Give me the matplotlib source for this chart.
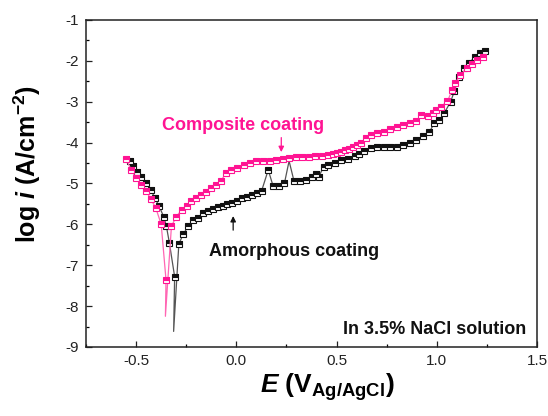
import numpy as np
import matplotlib.pyplot as plt

plt.rcParams['font.family'] = 'Liberation Sans'
plt.rcParams['mathtext.fontset'] = 'custom'
plt.rcParams['mathtext.rm'] = 'Liberation Sans'
plt.rcParams['mathtext.bf'] = 'Liberation Sans:bold'
plt.rcParams['mathtext.it'] = 'Liberation Sans:italic'
plt.rcParams['mathtext.bfit'] = 'Liberation Sans:italic:bold'

# amorphous coating (E in V vs Ag/AgCl, log i)
amor_E = [-0.533, -0.517, -0.497, -0.476, -0.451, -0.427, -0.406, -0.386, -0.362, -0.349,
          -0.334, -0.308, -0.313, -0.287, -0.264, -0.240, -0.215, -0.191, -0.167, -0.142,
          -0.118, -0.094, -0.069, -0.045, -0.020, 0.004, 0.028, 0.053, 0.077, 0.101,
          0.126, 0.159, 0.183, 0.212, 0.240, 0.263, 0.288, 0.316, 0.345, 0.378,
          0.395, 0.410, 0.435, 0.459, 0.492, 0.524, 0.556, 0.590, 0.614, 0.638,
          0.671, 0.703, 0.736, 0.768, 0.800, 0.833, 0.866, 0.898, 0.930, 0.963,
          0.988, 1.012, 1.037, 1.069, 1.087, 1.110, 1.134, 1.159, 1.191, 1.215, 1.240]
amor_logi = [-4.44, -4.57, -4.71, -4.85, -4.99, -5.16, -5.36, -5.55, -5.82, -6.05,
             -6.46, -7.28, -8.62, -6.48, -6.23, -6.05, -5.90, -5.84, -5.73, -5.68,
             -5.63, -5.58, -5.55, -5.50, -5.47, -5.42, -5.36, -5.32, -5.28, -5.24,
             -5.18, -4.67, -5.06, -5.06, -4.99, -4.45, -4.95, -4.93, -4.92, -4.84,
             -4.78, -4.84, -4.60, -4.55, -4.49, -4.43, -4.40, -4.34, -4.28, -4.21,
             -4.14, -4.10, -4.10, -4.10, -4.11, -4.07, -4.00, -3.93, -3.85, -3.74,
             -3.52, -3.45, -3.28, -3.00, -2.75, -2.39, -2.18, -2.06, -1.90, -1.81, -1.75]
amor_nomark = [12, 35]

# composite coating
comp_E = [-0.549, -0.524, -0.500, -0.476, -0.451, -0.427, -0.402, -0.375, -0.351, -0.354,
          -0.324, -0.300, -0.273, -0.248, -0.224, -0.200, -0.175, -0.151, -0.126, -0.102,
          -0.078, -0.053, -0.029, 0.004, 0.037, 0.069, 0.100, 0.134, 0.166, 0.199,
          0.232, 0.264, 0.297, 0.329, 0.361, 0.394, 0.427, 0.459, 0.480, 0.500,
          0.520, 0.540, 0.560, 0.581, 0.600, 0.622, 0.646, 0.671, 0.703, 0.736,
          0.768, 0.800, 0.833, 0.866, 0.898, 0.922, 0.955, 0.980, 0.996, 1.020,
          1.053, 1.077, 1.093, 1.118, 1.150, 1.175, 1.199, 1.232]
comp_logi = [-4.41, -4.68, -4.87, -5.03, -5.18, -5.38, -5.60, -6.00, -7.36, -8.25,
             -6.05, -5.81, -5.65, -5.55, -5.44, -5.36, -5.28, -5.20, -5.12, -5.03,
             -4.95, -4.75, -4.67, -4.61, -4.55, -4.50, -4.46, -4.44, -4.44, -4.42,
             -4.40, -4.38, -4.35, -4.35, -4.36, -4.34, -4.32, -4.30, -4.28, -4.25,
             -4.22, -4.19, -4.15, -4.11, -4.06, -4.00, -3.90, -3.82, -3.77, -3.73,
             -3.66, -3.61, -3.58, -3.53, -3.47, -3.33, -3.34, -3.27, -3.21, -3.12,
             -2.99, -2.71, -2.53, -2.34, -2.18, -2.07, -1.99, -1.91]
comp_nomark = [9]

pink = '#ff1493'

fig = plt.figure(figsize=(5.48, 4.16), dpi=100)
ax = fig.add_axes([0.157, 0.166, 0.823, 0.786])


def draw(E, logi, nomark, line_c, mark_c):
    every = [i for i in range(len(E)) if i not in nomark]
    ax.plot(E, logi, color=line_c, lw=0.9, marker='s', ms=5,
            markevery=every, fillstyle='top', markerfacecolor=mark_c,
            markerfacecoloralt='white', markeredgecolor=mark_c, mew=0.8)


draw(amor_E, amor_logi, amor_nomark, '#555555', '#111111')
draw(comp_E, comp_logi, comp_nomark, '#ff66b3', pink)

ax.set_xlim(-0.7, 1.5)
ax.set_ylim(-9, -1)
ax.set_xticks([-0.5, 0.0, 0.5, 1.0, 1.5])
ax.set_xticklabels(['-0.5', '0.0', '0.5', '1.0', '1.5'])
ax.set_yticks(np.arange(-9, 0, 1))
ax.set_yticklabels([str(v) for v in range(-9, 0)])
ax.set_xticks(np.arange(-0.75, 1.5, 0.25), minor=True)
ax.set_yticks(np.arange(-8.5, -1, 1.0), minor=True)
ax.tick_params(which='major', direction='in', length=4, width=0.9,
               labelsize=11, pad=5, colors='#222222')
ax.tick_params(which='minor', direction='in', length=2.5, width=0.9)
for s in ax.spines.values():
    s.set_linewidth(1.1)
    s.set_color('#222222')

ax.set_xlabel(r'$\mathbfit{E}\ \mathbf{(V_{Ag/AgCl})}$', fontsize=19)
ax.xaxis.set_label_coords(0.534, -0.075)
ax.set_ylabel(r'$\mathbf{log}\ \mathbfit{i}\ \mathbf{(A/cm^{-2})}$', fontsize=18)
ax.yaxis.set_label_coords(-0.095, 0.56)

ax.text(0.034, -3.57, 'Composite coating', color=pink, fontsize=13,
        fontweight='bold', ha='center', va='center')
ax.annotate('', xy=(0.224, -4.30), xytext=(0.224, -3.81),
            arrowprops=dict(arrowstyle='-|>', color=pink, lw=0.9,
                            mutation_scale=8))
ax.text(0.287, -6.67, 'Amorphous coating', color='#111111', fontsize=13,
        fontweight='bold', ha='center', va='center')
ax.annotate('', xy=(-0.016, -5.73), xytext=(-0.016, -6.21),
            arrowprops=dict(arrowstyle='-|>', color='#111111', lw=0.9,
                            mutation_scale=8))
ax.text(0.988, -8.58, 'In 3.5% NaCl solution', color='#111111', fontsize=13,
        fontweight='bold', ha='center', va='center')

fig.savefig('out.png', dpi=100)
